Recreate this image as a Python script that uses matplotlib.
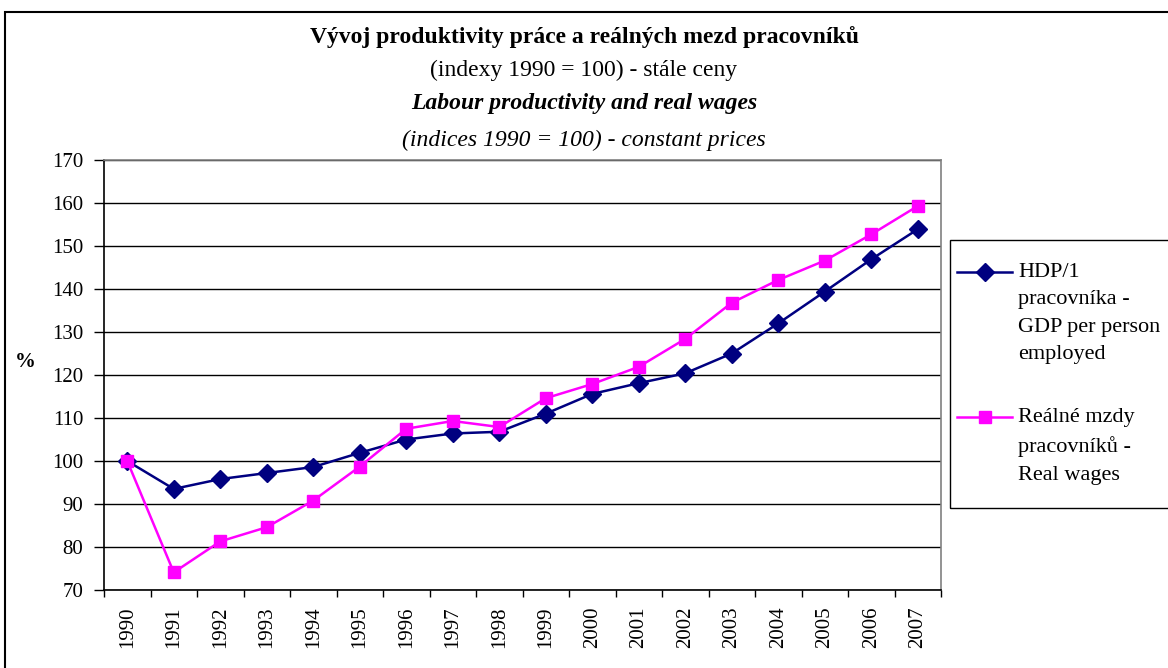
import numpy as np
import matplotlib.pyplot as plt
from matplotlib.patches import Rectangle
from matplotlib.lines import Line2D

plt.rcParams['font.family'] = ['Liberation Serif', 'DejaVu Serif']

# data
years = [str(y) for y in range(1990, 2008)]
gdp_per_worker = [100.0, 93.5, 95.8, 97.2, 98.6, 101.9, 105.0, 106.4, 106.8,
                  111.0, 115.6, 118.1, 120.4, 125.0, 132.0, 139.4, 146.9, 153.9]
real_wages = [100.0, 74.1, 81.3, 84.6, 90.8, 98.7, 107.5, 109.3, 107.9,
              114.6, 117.9, 121.9, 128.4, 136.8, 142.1, 146.6, 152.7, 159.3]
label_gdp = "HDP/1\npracovníka -\nGDP per person\nemployed"
label_wages = "Reálné mzdy\npracovníků -\nReal wages"

navy = '#000080'
magenta = '#FF00FF'

W, H = 1168, 668
fig = plt.figure(figsize=(W / 100, H / 100), dpi=100, facecolor='white')

# outer frame of the chart
fig.patches.append(Rectangle((5 / W, -0.01), 1.2, 1 - 12 / H + 0.01,
                             transform=fig.transFigure, fill=False,
                             edgecolor='black', linewidth=1.5))

# plot area in pixel coordinates
left, right, top, bottom = 104, 941, 160, 590
ax = fig.add_axes([left / W, 1 - bottom / H, (right - left) / W, (bottom - top) / H])

x = np.arange(len(years))
ax.plot(x, gdp_per_worker, color=navy, marker='D', markersize=9, linewidth=1.8)
ax.plot(x, real_wages, color=magenta, marker='s', markersize=9, linewidth=1.8)

ax.set_xlim(-0.5, len(years) - 0.5)
ax.set_ylim(70, 170)
ax.set_yticks(range(70, 171, 10))
ax.yaxis.grid(True, color='black', linewidth=1)
ax.set_axisbelow(True)

ax.set_xticks(x)
ax.set_xticklabels(years, rotation=90, fontsize=15)
ax.set_xticks(np.arange(-0.5, len(years), 1), minor=True)
ax.tick_params(axis='x', which='major', length=0, pad=12)
ax.tick_params(axis='x', which='minor', length=5, width=1, direction='out')
ax.tick_params(axis='y', length=7, width=1, labelsize=15, pad=8)

for s in ['left', 'bottom']:
    ax.spines[s].set_color('black')
    ax.spines[s].set_linewidth(1.2)
for s in ['top', 'right']:
    ax.spines[s].set_color('#808080')
    ax.spines[s].set_linewidth(1.2)

fig.text(25 / W, 1 - 362 / H, '%', fontsize=15, fontweight='bold',
         ha='center', va='center')

# titles
fig.text(0.5, 1 - 37 / H, 'Vývoj produktivity práce a reálných mezd pracovníků',
         fontsize=17, fontweight='bold', ha='center', va='center')
fig.text(0.5, 1 - 70 / H, '(indexy 1990 = 100) - stále ceny',
         fontsize=17, ha='center', va='center')
fig.text(0.5, 1 - 103 / H, 'Labour productivity and real wages',
         fontsize=17, fontweight='bold', style='italic', ha='center', va='center')
fig.text(0.5, 1 - 140 / H, '(indices 1990 = 100) - constant prices',
         fontsize=17, style='italic', ha='center', va='center')

# legend box, keys aligned with the first line of each label
fig.patches.append(Rectangle((950 / W, 1 - 508 / H), 1.0, (508 - 240) / H,
                             transform=fig.transFigure, fill=False,
                             edgecolor='black', linewidth=1))
for label, color, marker, ypix in [(label_gdp, navy, 'D', 272),
                                   (label_wages, magenta, 's', 417)]:
    yf = 1 - ypix / H
    fig.add_artist(Line2D([957 / W, 1012 / W], [yf, yf], color=color,
                          linewidth=1.8, transform=fig.transFigure))
    fig.add_artist(Line2D([984.5 / W], [yf], color=color, marker=marker,
                          markersize=9, transform=fig.transFigure))
    fig.text(1018 / W, 1 - (ypix - 9) / H, label, fontsize=16,
             ha='left', va='top', linespacing=1.6)

fig.savefig('out.png', dpi=100)
